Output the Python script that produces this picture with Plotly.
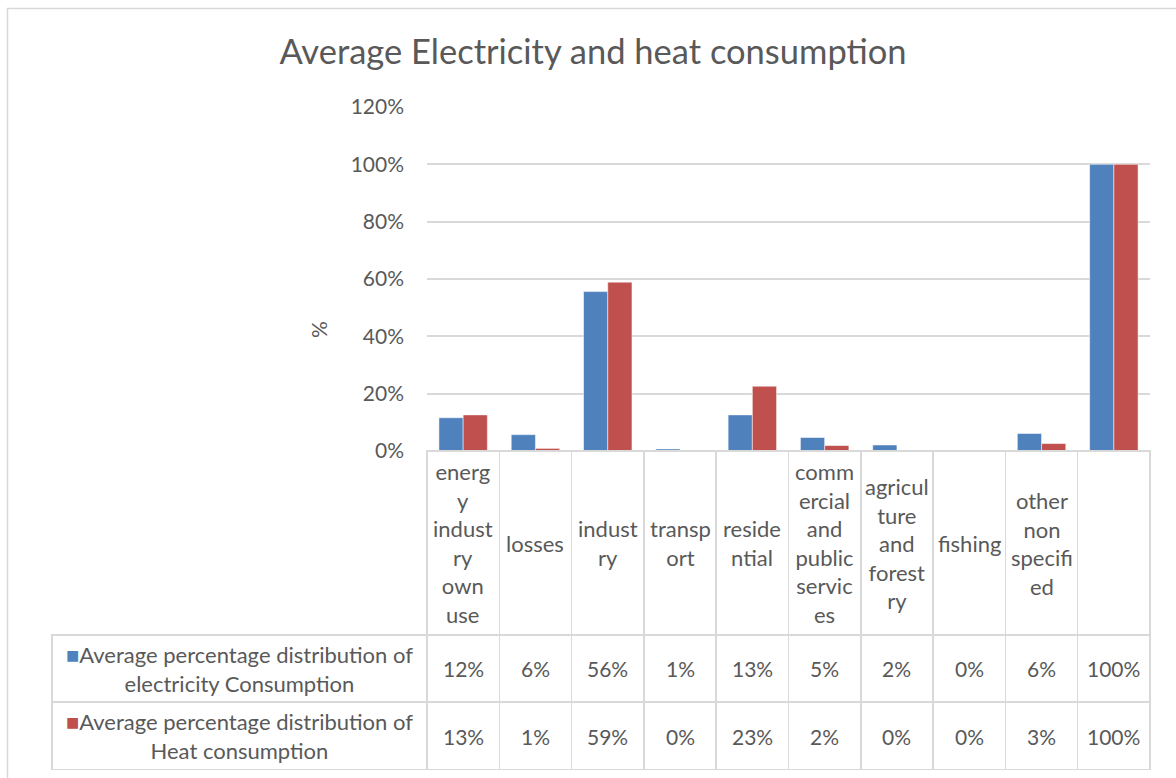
"""Average electricity and heat consumption: grouped bars with an Excel-style data table."""

import plotly.graph_objects as go

# ---------------------------------------------------------------------------
# Data
# ---------------------------------------------------------------------------

categories = [
    "energy industry own use",
    "losses",
    "industry",
    "transport",
    "residential",
    "commercial and public services",
    "agriculture and forestry",
    "fishing",
    "other non specified",
    "total",
]

# labels as wrapped in the data table header
category_labels = [
    "energ<br>y<br>indust<br>ry<br>own<br>use",
    "losses",
    "indust<br>ry",
    "transp<br>ort",
    "reside<br>ntial",
    "comm<br>ercial<br>and<br>public<br>servic<br>es",
    "agricul<br>ture<br>and<br>forest<br>ry",
    "fishing",
    "other<br>non<br>specifi<br>ed",
    "",
]

electricity = [11.6, 5.7, 55.6, 0.7, 12.6, 4.7, 2.1, 0.0, 6.1, 100.0]
heat = [12.6, 0.9, 58.9, 0.1, 22.6, 1.9, 0.2, 0.0, 2.6, 100.0]

series_names = [
    "Average percentage distribution of<br>electricity Consumption",
    "Average percentage distribution of<br>Heat consumption",
]

# ---------------------------------------------------------------------------
# Styling
# ---------------------------------------------------------------------------

W, H = 1176, 778
FONT = "Lato, 'Open Sans', sans-serif"
TEXT = "#595959"
GRID = "#d9d9d9"
BLUE = "#4f81bd"
RED = "#c0504d"


def px_x(x):
    return x / W


def px_y(y):
    return 1 - y / H


# pixel geometry of the plot area and the table
PLOT_L, PLOT_R, PLOT_T, PLOT_B = 427, 1150, 107, 451
TABLE_L = 52
ROW_CAT_B, ROW1_B, ROW2_B = 635, 702, 770

fig = go.Figure()

for name, vals, color in [
    (series_names[0], electricity, BLUE),
    (series_names[1], heat, RED),
]:
    fig.add_trace(
        go.Bar(
            x=categories,
            y=vals,
            name=name.replace("<br>", " "),
            marker={"color": color, "line": {"color": "rgba(255,255,255,0.5)", "width": 1}},
            showlegend=False,
        )
    )

# table grid: category header row
fig.add_trace(
    go.Table(
        domain={"x": [px_x(PLOT_L), px_x(PLOT_R)], "y": [px_y(ROW_CAT_B), px_y(PLOT_B)]},
        header={
            "values": [""] * len(categories),
            "height": ROW_CAT_B - PLOT_B,
            "line": {"color": GRID, "width": 1.5},
            "fill": {"color": "white"},
        },
        cells={"values": [[] for _ in categories], "line": {"color": GRID}},
    )
)

# table grid: series rows (legend column + value columns)
col_w = (PLOT_R - PLOT_L) / len(categories)
fig.add_trace(
    go.Table(
        domain={"x": [px_x(TABLE_L), px_x(PLOT_R)], "y": [px_y(ROW2_B), px_y(ROW_CAT_B)]},
        columnwidth=[PLOT_L - TABLE_L] + [col_w] * len(categories),
        header={
            "values": [""] * (len(categories) + 1),
            "height": ROW1_B - ROW_CAT_B,
            "line": {"color": GRID, "width": 1.5},
            "fill": {"color": "white"},
        },
        cells={
            "values": [[""] for _ in range(len(categories) + 1)],
            "height": ROW2_B - ROW1_B,
            "line": {"color": GRID, "width": 1.5},
            "fill": {"color": "white"},
        },
    )
)

annotations = []

# category labels in the header row
for cat, label in zip(categories, category_labels):
    annotations.append(
        {
            "x": cat,
            "xref": "x",
            "xanchor": "center",
            "y": px_y((PLOT_B + ROW_CAT_B) / 2),
            "yref": "paper",
            "yanchor": "middle",
            "text": label,
            "showarrow": False,
            "align": "center",
            "valign": "middle",
            "font": {"size": 22, "color": TEXT, "family": FONT},
        }
    )

# value rows
for row_y, vals in [((ROW_CAT_B + ROW1_B) / 2, electricity), ((ROW1_B + ROW2_B) / 2, heat)]:
    for cat, v in zip(categories, vals):
        annotations.append(
            {
                "x": cat,
                "xref": "x",
                "xanchor": "center",
                "y": px_y(row_y),
                "yref": "paper",
                "yanchor": "middle",
                "text": f"{int(v + 0.5)}%",
                "showarrow": False,
                "font": {"size": 21, "color": TEXT, "family": FONT},
            }
        )

# legend keys in the first column
for row_y, name, color in [
    ((ROW_CAT_B + ROW1_B) / 2, series_names[0], BLUE),
    ((ROW1_B + ROW2_B) / 2, series_names[1], RED),
]:
    annotations.append(
        {
            "x": px_x((TABLE_L + PLOT_L) / 2),
            "xref": "paper",
            "xanchor": "center",
            "y": px_y(row_y),
            "yref": "paper",
            "yanchor": "middle",
            "text": f"<span style='color:{color}'>■</span>{name}",
            "showarrow": False,
            "align": "center",
            "font": {"size": 22, "color": TEXT, "family": FONT},
        }
    )

# y axis title
annotations.append(
    {
        "x": px_x(318),
        "xref": "paper",
        "xanchor": "center",
        "y": px_y(330),
        "yref": "paper",
        "yanchor": "middle",
        "text": "%",
        "textangle": -90,
        "showarrow": False,
        "font": {"size": 21, "color": TEXT, "family": FONT},
    }
)

fig.update_layout(
    width=W,
    height=H,
    margin={"l": 0, "r": 0, "t": 0, "b": 0, "autoexpand": False},
    paper_bgcolor="white",
    plot_bgcolor="white",
    title={
        "text": "Average Electricity and heat consumption",
        "x": px_x(593),
        "xanchor": "center",
        "y": px_y(52),
        "yanchor": "middle",
        "font": {"size": 34.5, "color": TEXT, "family": FONT},
    },
    barmode="group",
    bargap=0.33,
    bargroupgap=0,
    xaxis={
        "domain": [px_x(PLOT_L), px_x(PLOT_R)],
        "showticklabels": False,
        "showgrid": False,
        "showline": False,
        "zeroline": False,
        "automargin": False,
    },
    yaxis={
        "domain": [px_y(PLOT_B), px_y(PLOT_T)],
        "range": [0, 120],
        "dtick": 20,
        "ticksuffix": "%",
        "showgrid": True,
        "gridcolor": GRID,
        "gridwidth": 1.5,
        "zeroline": True,
        "zerolinecolor": GRID,
        "zerolinewidth": 1.5,
        "ticklabelstandoff": 22,
        "automargin": False,
        "tickfont": {"size": 21, "color": TEXT, "family": FONT},
    },
    annotations=annotations,
    shapes=[
        {
            "type": "rect",
            "xref": "paper",
            "yref": "paper",
            "x0": px_x(7.5),
            "x1": px_x(W + 10),
            "y0": px_y(H + 10),
            "y1": px_y(8.5),
            "line": {"color": GRID, "width": 1.5},
            "layer": "below",
        }
    ],
    font={"family": FONT, "color": TEXT},
)

fig.write_html(
    "out.html",
    config={"displayModeBar": False},
    post_script="document.body.style.margin='0';document.body.style.overflow='hidden';",
)
